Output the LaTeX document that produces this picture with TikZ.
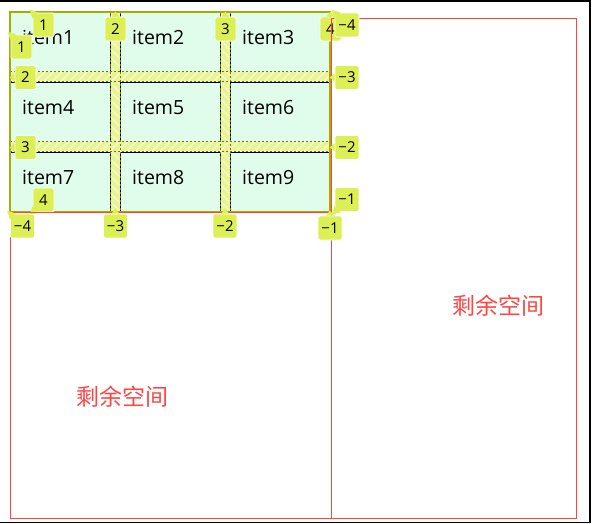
\documentclass[tikz,border=0pt]{standalone}
\usepackage{fontspec}
\setmainfont{Open Sans}
\newfontfamily\cjk{Noto Sans CJK SC}
\usepackage{tikz}
\usetikzlibrary{calc,patterns.meta}
\usepackage{xcolor}
\definecolor{cellfill}{HTML}{DFFDEA}
\definecolor{badgefill}{HTML}{DCEF54}
\definecolor{gapfill}{HTML}{E8F496}
\definecolor{gaphatch}{HTML}{F4FAC4}
\definecolor{gridline}{HTML}{A2AE00}
\definecolor{spacered}{HTML}{FF4444}

\begin{document}
\begin{tikzpicture}[
  x=1pt,y=-1pt,
  cell/.style={draw=black,fill=cellfill,line width=1pt,minimum width=100pt,minimum height=60pt,anchor=north west,inner sep=0pt},
  item/.style={anchor=base west,inner sep=0pt,font=\fontsize{19.5}{19.5}\selectfont},
  rowgap/.style={preaction={fill=gapfill},pattern={Lines[angle=45,distance=6pt,line width=1.6pt]},pattern color=gaphatch},
  colgap/.style={preaction={fill=gapfill},pattern={Lines[angle=-45,distance=6pt,line width=1.6pt]},pattern color=gaphatch},
  gapedge/.style={draw=gridline!70!black,line width=1pt,dash pattern=on 2pt off 2pt},
  badge/.style={fill=badgefill,draw=white,line width=0.8pt,rounded corners=1.5pt,inner sep=0pt,minimum width=#1,minimum height=24pt,font=\fontsize{15}{15}\selectfont},
  badge/.default=21pt,
  tip/.style={fill=badgefill},
  space/.style={text=spacered,inner sep=0pt,font=\cjk\fontsize{23}{23}\selectfont}
  ]
\useasboundingbox (0,0) rectangle (595,524);
\def\colstep{110}
\def\rowstep{70}
% outer frame of the page
\draw[line width=1.5pt] (0,1) -- (590,1) -- (590,522.5) -- (0,522.5);
% grid items
\foreach \r in {0,1,2}{
  \foreach \c in {0,1,2}{
    \pgfmathtruncatemacro{\n}{3*\r+\c+1}
    \node[cell] (cell\n) at ({10+\colstep*\c},{12+\rowstep*\r}) {};
    \node[item] (item\n) at ($(cell\n.north west)+(12,33)$) {item\n};
  }
}
% gaps between tracks
\foreach \g in {0,1}{
  \path[colgap] ({110.5+\colstep*\g},12) rectangle ({119.5+\colstep*\g},212);
  \path[rowgap] (10,{72.5+\rowstep*\g}) rectangle (330,{81.5+\rowstep*\g});
}
\foreach \g in {0,1}{
  \draw[gapedge] ({110+\colstep*\g},12) -- ({110+\colstep*\g},212);
  \draw[gapedge] ({120+\colstep*\g},12) -- ({120+\colstep*\g},212);
  \draw[gapedge] (10,{72+\rowstep*\g}) -- (330,{72+\rowstep*\g});
  \draw[gapedge] (10,{82+\rowstep*\g}) -- (330,{82+\rowstep*\g});
}
\draw[gridline,line width=1.2pt] (10,12) rectangle (330,212);
% positive line numbers
\node[badge] (c1) at (43.5,25) {1};
\node[badge] (c2) at (115.5,29) {2};
\node[badge] (c3) at (225.5,29) {3};
\node[badge] (c4) at (330.5,29) {4};
\node[badge] (r1) at (21.5,47) {1};
\node[badge] (r2) at (25.5,77.5) {2};
\node[badge] (r3) at (25.5,147.5) {3};
\node[badge] (r4) at (43.5,200) {4};
\fill[tip] ($(c1.north west)+(6,0)$) -- ($(c1.north west)+(0,6)$) -- ($(c1.north west)+(-3,-3)$) -- cycle;
\fill[tip] ($(c2.north)+(-4,0)$) -- ($(c2.north)+(0,-5)$) -- ($(c2.north)+(4,0)$) -- cycle;
\fill[tip] ($(c3.north)+(-4,0)$) -- ($(c3.north)+(0,-5)$) -- ($(c3.north)+(4,0)$) -- cycle;
\fill[tip] ($(c4.north)+(-4,0)$) -- ($(c4.north)+(0,-5)$) -- ($(c4.north)+(4,0)$) -- cycle;
\fill[tip] ($(r1.north west)+(6,0)$) -- ($(r1.north west)+(0,6)$) -- ($(r1.north west)+(-3,-3)$) -- cycle;
\fill[tip] ($(r2.west)+(0,-4)$) -- ($(r2.west)+(-5,0)$) -- ($(r2.west)+(0,4)$) -- cycle;
\fill[tip] ($(r3.west)+(0,-4)$) -- ($(r3.west)+(-5,0)$) -- ($(r3.west)+(0,4)$) -- cycle;
\fill[tip] ($(r4.south west)+(6,0)$) -- ($(r4.south west)+(0,-6)$) -- ($(r4.south west)+(-3,3)$) -- cycle;
% remaining space
\draw[spacered] (10,212) rectangle (331,518);
\draw[spacered] (331,18) rectangle (576,518);
\node[space] (leftspace) at (122,397) {剩余空间};
\node[space] (rightspace) at (498,306) {剩余空间};
% negative line numbers
\node[badge=24pt] (nr4) at (347,25) {−4};
\node[badge=24pt] (nr3) at (347,77.5) {−3};
\node[badge=24pt] (nr2) at (347,147.5) {−2};
\node[badge=24pt] (nr1) at (347,199.5) {−1};
\node[badge=24pt] (nc4) at (22.5,226) {−4};
\node[badge=24pt] (nc3) at (115.5,226) {−3};
\node[badge=24pt] (nc2) at (225,226) {−2};
\node[badge=24pt] (nc1) at (330,228) {−1};
\fill[tip] ($(nr4.north west)+(6,0)$) -- ($(nr4.north west)+(0,6)$) -- ($(nr4.north west)+(-3,-3)$) -- cycle;
\fill[tip] ($(nr3.west)+(0,-4)$) -- ($(nr3.west)+(-5,0)$) -- ($(nr3.west)+(0,4)$) -- cycle;
\fill[tip] ($(nr2.west)+(0,-4)$) -- ($(nr2.west)+(-5,0)$) -- ($(nr2.west)+(0,4)$) -- cycle;
\fill[tip] ($(nr1.south west)+(6,0)$) -- ($(nr1.south west)+(0,-6)$) -- ($(nr1.south west)+(-3,3)$) -- cycle;
\fill[tip] ($(nc4.north west)+(6,0)$) -- ($(nc4.north west)+(0,6)$) -- ($(nc4.north west)+(-3,-3)$) -- cycle;
\fill[tip] ($(nc3.north)+(-4,0)$) -- ($(nc3.north)+(0,-5)$) -- ($(nc3.north)+(4,0)$) -- cycle;
\fill[tip] ($(nc2.north)+(-4,0)$) -- ($(nc2.north)+(0,-5)$) -- ($(nc2.north)+(4,0)$) -- cycle;
\fill[tip] ($(nc1.north)+(-4,0)$) -- ($(nc1.north)+(0,-5)$) -- ($(nc1.north)+(4,0)$) -- cycle;
\end{tikzpicture}
\end{document}
